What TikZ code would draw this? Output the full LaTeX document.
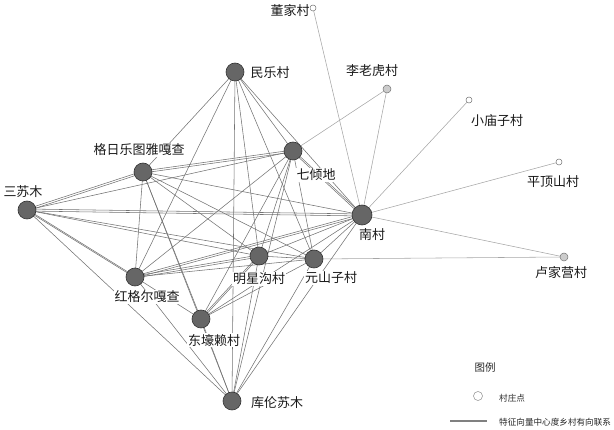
\documentclass[tikz,border=0pt]{standalone}
\usepackage{fontspec}
\newfontfamily\cjk{Noto Sans CJK SC}
\pgfdeclarelayer{bg}
\pgfsetlayers{bg,main}
\begin{document}
\begin{tikzpicture}[x=1pt,y=-1pt,
  big/.style={circle,draw=black!80,fill=black!60,minimum size=18pt,inner sep=0pt,line width=0.6pt},
  bign/.style={big,minimum size=20pt},
  small/.style={circle,draw=black!55,fill=white,minimum size=6pt,inner sep=0pt,line width=0.5pt},
  smallg/.style={small,fill=black!20,minimum size=8pt},
  lbl/.style={font=\cjk\fontsize{13}{13}\selectfont,fill=white,inner sep=0.8pt,text=black!90},
  leg/.style={font=\cjk\fontsize{8.6}{9}\selectfont,inner sep=0pt,text=black!85},
  e/.style={draw=black!55,line width=0.55pt},
  es/.style={draw=black!35,line width=0.55pt}]
\useasboundingbox (0,0) rectangle (614,430);
% nodes
\node[big]  (M) at (235,72)  {};
\node[big]  (G) at (143,172) {};
\node[big]  (Q) at (293,151) {};
\node[big]  (S) at (27,210)  {};
\node[bign] (N) at (362,215) {};
\node[big]  (X) at (259,256) {};
\node[big]  (Y) at (314,259) {};
\node[big]  (H) at (135,277) {};
\node[big]  (D) at (201,319) {};
\node[big]  (K) at (232,401) {};
\node[small]  (dj)  at (313,8)   {};
\node[smallg] (llh) at (387,89)  {};
\node[small]  (xmz) at (469,100) {};
\node[small]  (pds) at (559,162) {};
\node[smallg] (ljy) at (564,257) {};
% edges
\begin{pgfonlayer}{bg}
\foreach \a/\b in {dj/N,llh/N,llh/Q,xmz/N,pds/N,ljy/N,ljy/Y}
  \draw[es] (\a.center) -- (\b.center);
\foreach \a/\b in {S/Q,S/X,S/Y,S/K,
  G/M,G/N,G/X,G/Y,G/H,G/D,G/K,
  M/Q,M/N,M/X,M/Y,M/H,M/K,
  Q/X,Q/Y,Q/H,Q/D,Q/K,
  N/X,N/Y,N/D,N/K,
  X/Y,X/K,
  Y/H,Y/D,Y/K,
  H/D,H/K,D/K}
  \draw[e] (\a.center) -- (\b.center);
\foreach \a/\b in {S/G,S/N,G/Q,Q/N,N/H,X/H}
  {\draw[e] ([yshift=1pt]\a.center) -- ([yshift=1pt]\b.center);
   \draw[e] ([yshift=-1pt]\a.center) -- ([yshift=-1pt]\b.center);}
\foreach \a/\b in {S/H,X/D}
  {\draw[e] ([xshift=1pt]\a.center) -- ([xshift=1pt]\b.center);
   \draw[e] ([xshift=-1pt]\a.center) -- ([xshift=-1pt]\b.center);}
\end{pgfonlayer}
% labels
\node[lbl] (Ml) at (270,73)  {民乐村};
\node[lbl] (Gl) at (139,150) {格日乐图雅嘎查};
\node[lbl] (Ql) at (316,175) {七倾地};
\node[lbl] (Sl) at (23,192)  {三苏木};
\node[lbl] (Nl) at (372,235) {南村};
\node[lbl] (Xl) at (259,279) {明星沟村};
\node[lbl] (Yl) at (331,278) {元山子村};
\node[lbl] (Hl) at (147,297) {红格尔嘎查};
\node[lbl] (Dl) at (214,340) {东壕赖村};
\node[lbl] (Kl) at (277,403) {库伦苏木};
\node[lbl] (djl)  at (290,11)  {董家村};
\node[lbl] (llhl) at (372,71)  {李老虎村};
\node[lbl] (xmzl) at (497,121) {小庙子村};
\node[lbl] (pdsl) at (553,182) {平顶山村};
\node[lbl] (ljyl) at (561,273) {卢家营村};
% legend
\node[leg,font=\cjk\fontsize{10.5}{11}\selectfont] (lt) at (485,368) {图例};
\node[circle,draw=black!45,fill=white,minimum size=9pt,inner sep=0pt,line width=0.5pt] (lc) at (478,396) {};
\node[leg,anchor=west] (lcl) at (499,398) {村庄点};
\coordinate (la) at (450,421);
\coordinate (lb) at (487,421);
\draw[draw=black!50,line width=1.2pt] (la) -- (lb);
\node[leg,anchor=west] (lll) at (499,422) {特征向量中心度乡村有向联系};
\end{tikzpicture}
\end{document}
